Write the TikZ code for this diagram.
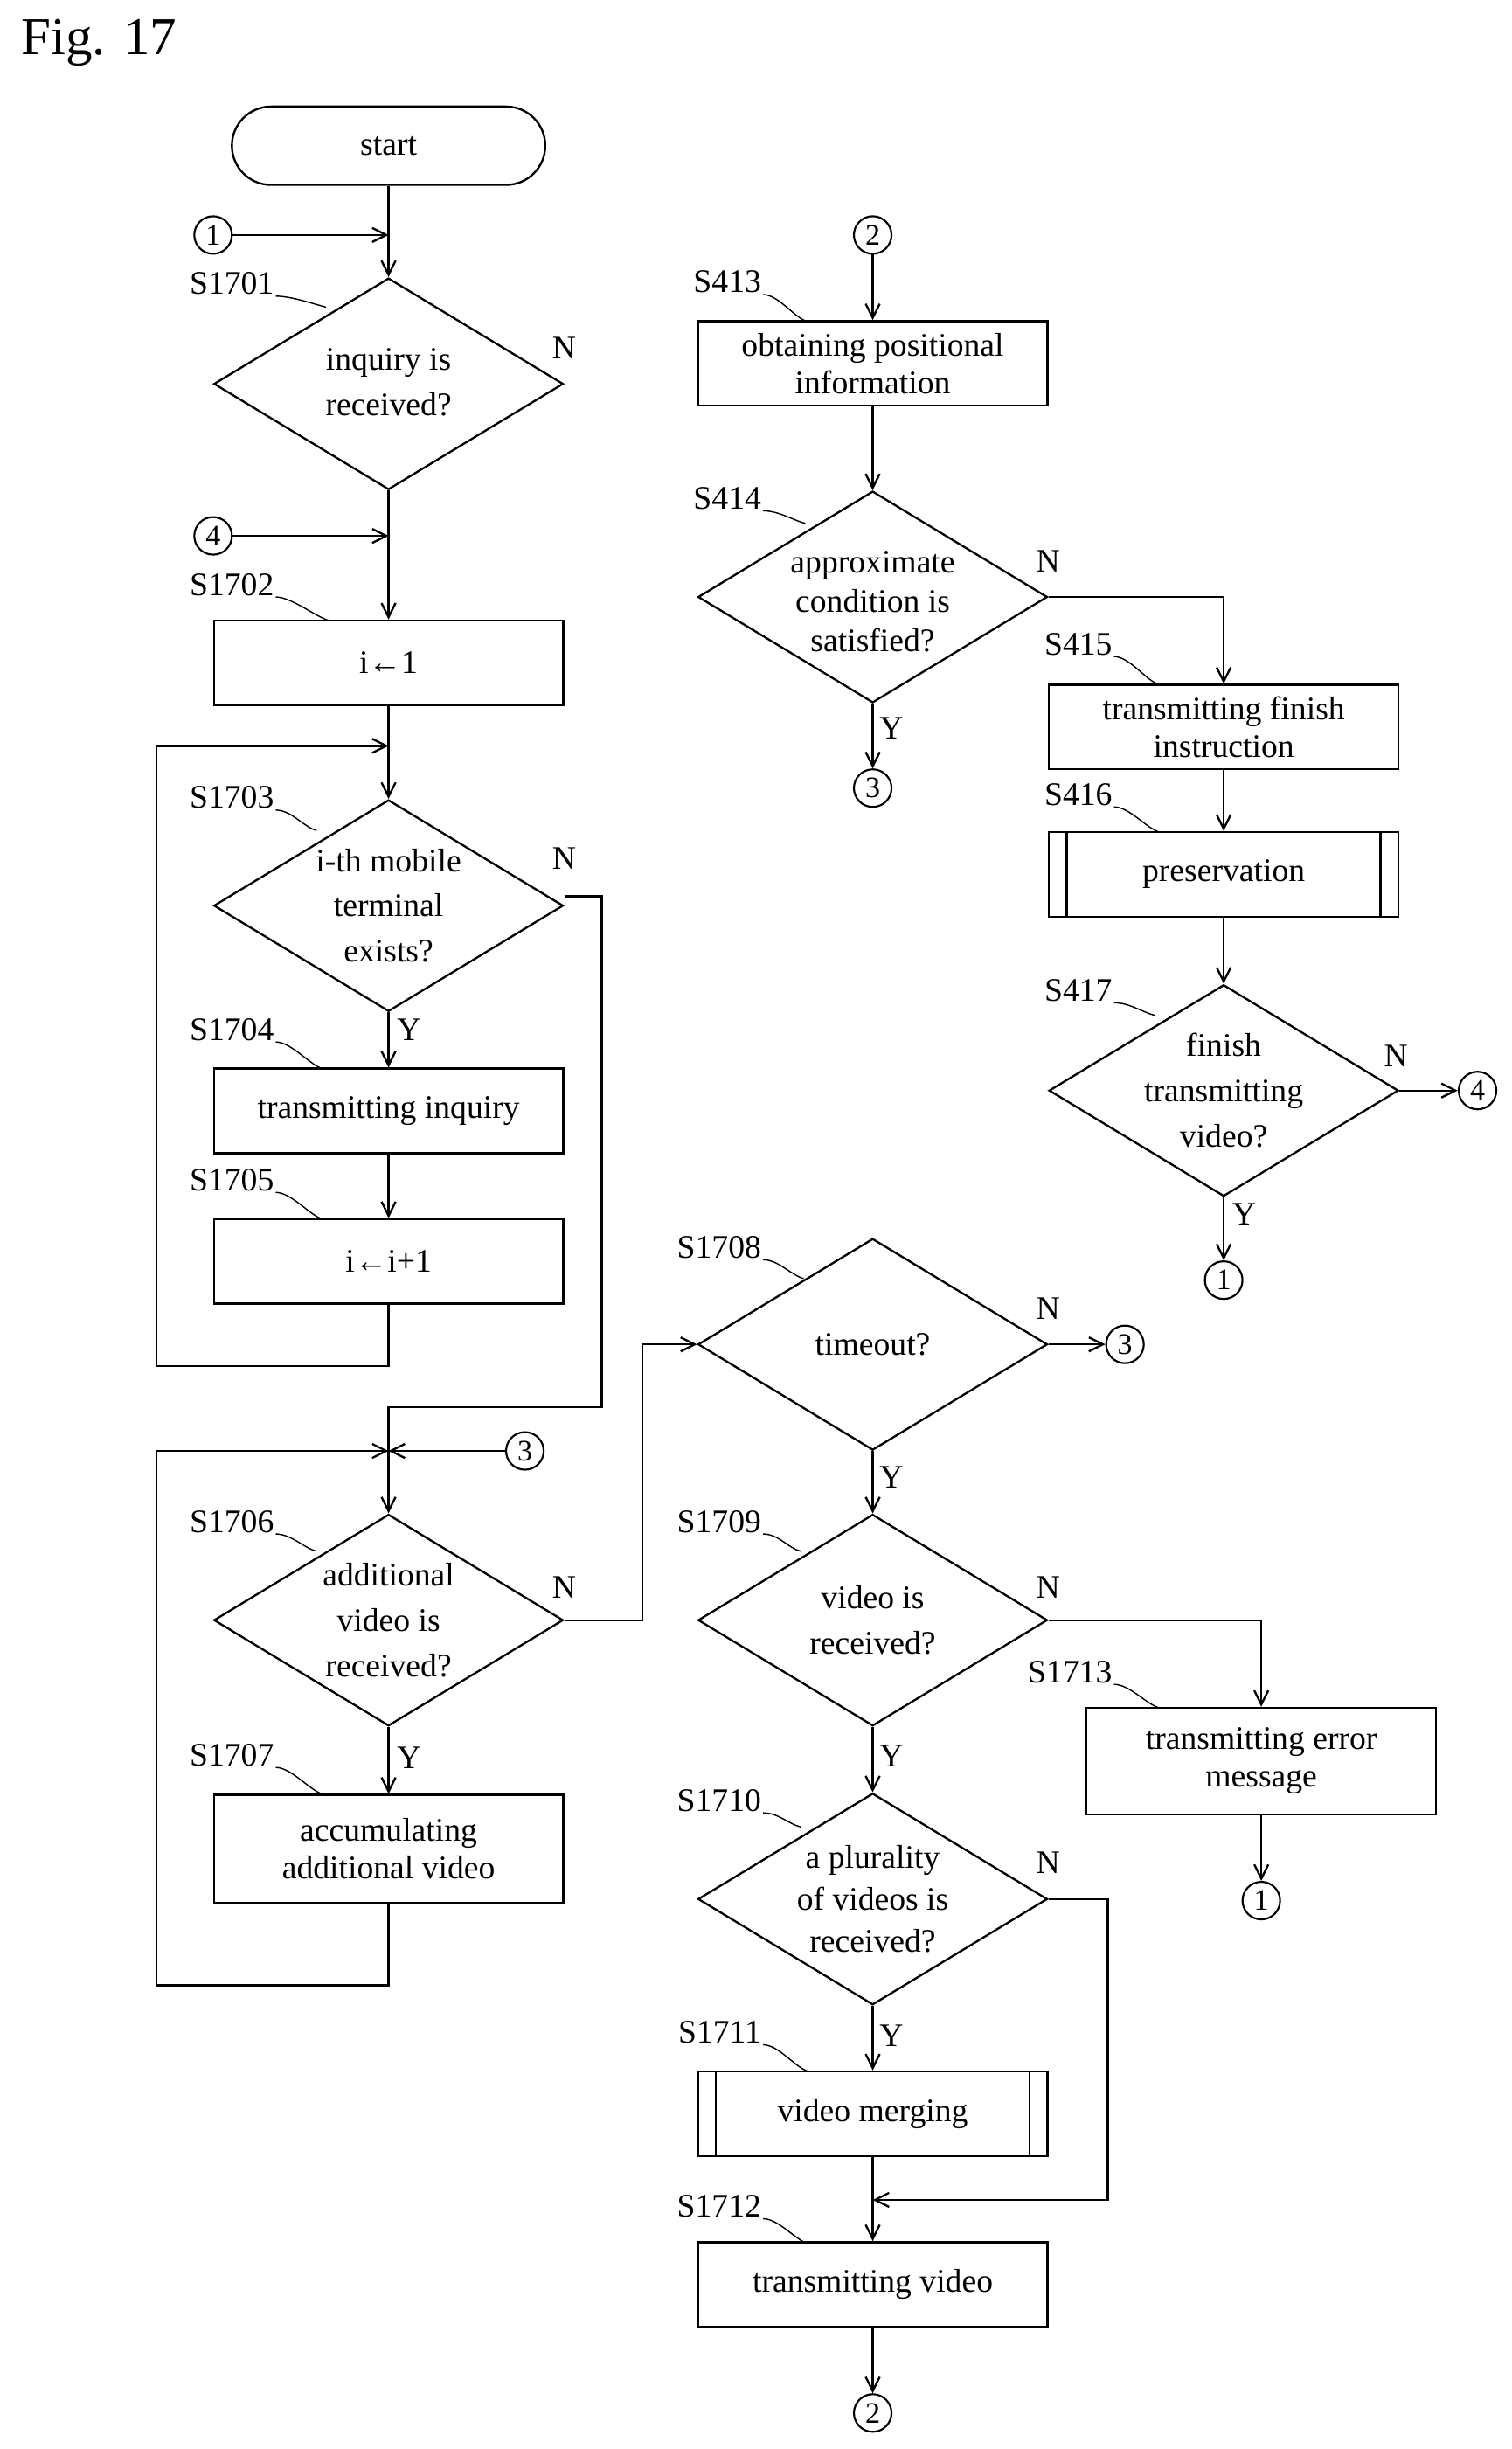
\documentclass[tikz,border=0pt]{standalone}
\usepackage{fontspec}
\setmainfont{Liberation Serif}
\usetikzlibrary{shapes.geometric,arrows.meta}
\begin{document}
\begin{tikzpicture}[x=1pt,y=-1pt,
  every node/.style={font=\fontsize{21}{24}\selectfont},
  line/.style={line width=1.3pt},
  arr/.style={line width=1.3pt,-{Straight Barb[length=9pt,width=9pt]}},
  box/.style={draw,line width=1.3pt,minimum width=223pt,minimum height=54pt,align=center,inner sep=0pt},
  dia/.style={draw,diamond,line width=1.3pt,minimum width=223pt,minimum height=135pt,inner sep=0pt},
  dtxt/.style={align=center,font=\fontsize{21}{29}\selectfont},
  circ/.style={draw,circle,line width=1.2pt,minimum size=24pt,inner sep=0pt,font=\fontsize{19}{19}\selectfont},
  lbl/.style={anchor=east,inner sep=1pt},
  yn/.style={inner sep=1pt},
  lead/.style={line width=0.8pt}]
\useasboundingbox (0,0) rectangle (965,1563);
\node[anchor=west,font=\fontsize{34}{34}\selectfont] (fig) at (10,27) {Fig. 17};
% left column
\node[draw,rounded corners=25pt,line width=1.3pt,minimum width=200pt,minimum height=50pt] (start) at (248,93) {start};
\node[circ] (c1a) at (136,150) {1};
\coordinate (j1) at (248,150);
\node[dia] (d1701) at (248,245) {};
\node[dtxt] (t1701) at (248,244) {inquiry is\\received?};
\node[circ] (c4a) at (136,342) {4};
\coordinate (j4) at (248,342);
\node[box] (b1702) at (248,423) {i←1};
\coordinate (j2) at (248,476);
\node[dia] (d1703) at (248,578) {};
\node[dtxt] (t1703) at (248,578) {i-th mobile\\terminal\\exists?};
\node[box] (b1704) at (248,709) {transmitting inquiry};
\node[box] (b1705) at (248,805) {i←i+1};
\coordinate (j3) at (248,926);
\node[circ] (c3a) at (335,926) {3};
\node[dia] (d1706) at (248,1034) {};
\node[dtxt] (t1706) at (248,1034) {additional\\video is\\received?};
\node[box,minimum height=69pt] (b1707) at (248,1180) {accumulating\\additional video};
% right column
\node[circ] (c2a) at (557,150) {2};
\node[box] (b413) at (557,232) {obtaining positional\\information};
\node[dia] (d414) at (557,381) {};
\node[dtxt,font=\fontsize{21}{25}\selectfont] (t414) at (557,384) {approximate\\condition is\\satisfied?};
\node[circ] (c3b) at (557,503) {3};
\node[box] (b415) at (781,464) {transmitting finish\\instruction};
\node[box] (b416) at (781,558) {preservation};
\node[dia] (d417) at (781,696) {};
\node[dtxt] (t417) at (781,696) {finish\\transmitting\\video?};
\node[circ] (c4b) at (943,696) {4};
\node[circ] (c1b) at (781,817) {1};
\node[dia] (d1708) at (557,858) {};
\node[dtxt] (t1708) at (557,858) {timeout?};
\node[circ] (c3c) at (718,858) {3};
\node[dia] (d1709) at (557,1034) {};
\node[dtxt] (t1709) at (557,1034) {video is\\received?};
\node[box,minimum height=68pt] (b1713) at (805,1124) {transmitting error\\message};
\node[circ] (c1c) at (805,1213) {1};
\node[dia] (d1710) at (557,1212) {};
\node[dtxt,font=\fontsize{21}{27}\selectfont] (t1710) at (557,1212) {a plurality\\of videos is\\received?};
\node[box] (b1711) at (557,1349) {video merging};
\coordinate (j5) at (557,1404);
\node[box] (b1712) at (557,1458) {transmitting video};
\node[circ] (c2b) at (557,1540) {2};
% predefined process inner lines
\draw[line] ([xshift=12pt]b416.north west) -- ([xshift=12pt]b416.south west);
\draw[line] ([xshift=-12pt]b416.north east) -- ([xshift=-12pt]b416.south east);
\draw[line] ([xshift=12pt]b1711.north west) -- ([xshift=12pt]b1711.south west);
\draw[line] ([xshift=-12pt]b1711.north east) -- ([xshift=-12pt]b1711.south east);
% connectors left
\draw[line] (start.south) -- (j1);
\draw[arr] (c1a.east) -- (j1);
\draw[arr] (j1) -- (d1701.north);
\draw[line] (d1701.south) -- (j4);
\draw[arr] (c4a.east) -- (j4);
\draw[arr] (j4) -- (b1702.north);
\draw[line] (b1702.south) -- (j2);
\draw[arr] (j2) -- (d1703.north);
\draw[arr] (d1703.south) -- (b1704.north);
\draw[arr] (b1704.south) -- (b1705.north);
\draw[arr] (b1705.south) -- (248,872) -- (100,872) -- (100,476) -- (j2);
\draw[line] (d1703.east) ++(0,-6) -- (384,572) -- (384,898) -- (248,898) -- (j3);
\draw[arr] (c3a.west) -- (j3);
\draw[arr] (b1707.south) -- (248,1267) -- (100,1267) -- (100,926) -- (j3);
\draw[arr] (j3) -- (d1706.north);
\draw[arr] (d1706.south) -- (b1707.north);
\draw[arr] (d1706.east) -- (410,1034) -- (410,858) -- (d1708.west);
% connectors right
\draw[arr] (c2a.south) -- (b413.north);
\draw[arr] (b413.south) -- (d414.north);
\draw[arr] (d414.south) -- (c3b.north);
\draw[arr] (d414.east) -- (781,381) -- (b415.north);
\draw[arr] (b415.south) -- (b416.north);
\draw[arr] (b416.south) -- (d417.north);
\draw[arr] (d417.east) -- (c4b.west);
\draw[arr] (d417.south) -- (c1b.north);
\draw[arr] (d1708.east) -- (c3c.west);
\draw[arr] (d1708.south) -- (d1709.north);
\draw[arr] (d1709.east) -- (805,1034) -- (b1713.north);
\draw[arr] (b1713.south) -- (c1c.north);
\draw[arr] (d1709.south) -- (d1710.north);
\draw[arr] (d1710.south) -- (b1711.north);
\draw[arr] (d1710.east) -- (707,1212) -- (707,1404) -- (j5);
\draw[line] (b1711.south) -- (j5);
\draw[arr] (j5) -- (b1712.north);
\draw[arr] (b1712.south) -- (c2b.north);
% Y/N
\node[yn] (n1) at (360,222) {N};
\node[yn] (n2) at (360,548) {N};
\node[yn] (y2) at (261,657) {Y};
\node[yn] (n3) at (360,1013) {N};
\node[yn] (y3) at (261,1122) {Y};
\node[yn] (n4) at (669,358) {N};
\node[yn] (y4) at (569,465) {Y};
\node[yn] (n5) at (891,674) {N};
\node[yn] (y5) at (794,775) {Y};
\node[yn] (n6) at (669,835) {N};
\node[yn] (y6) at (569,943) {Y};
\node[yn] (n7) at (669,1013) {N};
\node[yn] (y7) at (569,1121) {Y};
\node[yn] (n8) at (669,1189) {N};
\node[yn] (y8) at (569,1299) {Y};
% step labels
\foreach \n/\x/\y/\tx/\ty in {
 S1701/176/181/208/196, S1702/176/373/210/396, S1703/176/509/202/530,
 S1704/176/657/206/682, S1705/176/753/206/778, S1706/176/971/202/990,
 S1707/176/1120/206/1145, S413/487/180/515/205, S414/487/318/514/334,
 S415/711/411/740/437, S416/711/507/740/531, S417/711/632/737/648,
 S1708/487/796/513/816, S1709/487/971/511/990, S1710/487/1149/511/1166,
 S1711/487/1297/516/1322, S1712/487/1408/516/1432, S1713/711/1067/740/1090}{
 \node[lbl] (L\n) at (\x,\y) {\n};
 \draw[lead] (L\n.east) ++(0,8) .. controls +(10,0) and +(-8,-2) .. (\tx,\ty);
}
\end{tikzpicture}
\end{document}
